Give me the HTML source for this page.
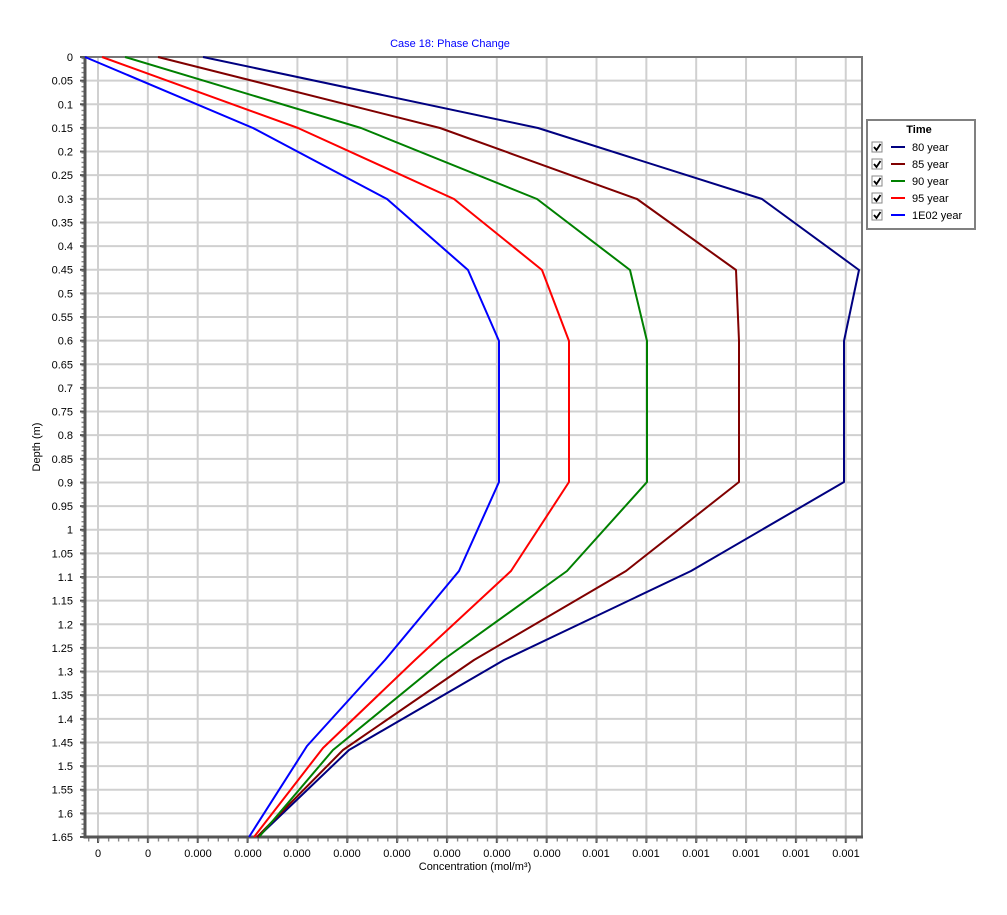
<!DOCTYPE html>
<html><head><meta charset="utf-8"><style>
body{margin:0;background:#fff;}
svg text{font-family:"Liberation Sans",sans-serif;font-size:11px;fill:#000;}
</style></head><body>
<svg width="1007" height="910" xmlns="http://www.w3.org/2000/svg">
<rect width="1007" height="910" fill="#fff"/>
<text x="450" y="47" text-anchor="middle" style="fill:#0000ff">Case 18: Phase Change</text>
<path stroke="#d0d0d0" stroke-width="2" fill="none" d="M85,80.64H862M85,104.27H862M85,127.91H862M85,151.55H862M85,175.18H862M85,198.82H862M85,222.45H862M85,246.09H862M85,269.73H862M85,293.36H862M85,317H862M85,340.64H862M85,364.27H862M85,387.91H862M85,411.55H862M85,435.18H862M85,458.82H862M85,482.45H862M85,506.09H862M85,529.73H862M85,553.36H862M85,577H862M85,600.64H862M85,624.27H862M85,647.91H862M85,671.55H862M85,695.18H862M85,718.82H862M85,742.45H862M85,766.09H862M85,789.73H862M85,813.36H862
M98,57V837M147.85,57V837M197.7,57V837M247.55,57V837M297.4,57V837M347.25,57V837M397.1,57V837M446.95,57V837M496.8,57V837M546.65,57V837M596.5,57V837M646.35,57V837M696.2,57V837M746.05,57V837M795.9,57V837M845.75,57V837"/>
<!-- major ticks -->
<path stroke="#555" stroke-width="2" fill="none" d="M80,57H85M80,80.64H85M80,104.27H85M80,127.91H85M80,151.55H85M80,175.18H85M80,198.82H85M80,222.45H85M80,246.09H85M80,269.73H85M80,293.36H85M80,317H85M80,340.64H85M80,364.27H85M80,387.91H85M80,411.55H85M80,435.18H85M80,458.82H85M80,482.45H85M80,506.09H85M80,529.73H85M80,553.36H85M80,577H85M80,600.64H85M80,624.27H85M80,647.91H85M80,671.55H85M80,695.18H85M80,718.82H85M80,742.45H85M80,766.09H85M80,789.73H85M80,813.36H85M80,837H85
M98,837V843M147.85,837V843M197.7,837V843M247.55,837V843M297.4,837V843M347.25,837V843M397.1,837V843M446.95,837V843M496.8,837V843M546.65,837V843M596.5,837V843M646.35,837V843M696.2,837V843M746.05,837V843M795.9,837V843M845.75,837V843"/>
<!-- minor ticks -->
<line x1="83" y1="57.7" x2="83" y2="837" stroke="#888" stroke-width="3" stroke-dasharray="1.4 3.327"/>
<line x1="88" y1="840" x2="862" y2="840" stroke="#888" stroke-width="3" stroke-dasharray="1.4 8.57"/>
<!-- axes frame -->
<path stroke="#777" stroke-width="2" fill="none" d="M85,57H862V837"/>
<path stroke="#555" stroke-width="3" fill="none" d="M85,56V837H863"/>
<g text-anchor="end">
<text x="73" y="61">0</text><text x="73" y="84.6">0.05</text><text x="73" y="108.3">0.1</text><text x="73" y="131.9">0.15</text><text x="73" y="155.5">0.2</text><text x="73" y="179.2">0.25</text><text x="73" y="202.8">0.3</text><text x="73" y="226.5">0.35</text><text x="73" y="250.1">0.4</text><text x="73" y="273.7">0.45</text><text x="73" y="297.4">0.5</text><text x="73" y="321">0.55</text><text x="73" y="344.6">0.6</text><text x="73" y="368.3">0.65</text><text x="73" y="391.9">0.7</text><text x="73" y="415.5">0.75</text><text x="73" y="439.2">0.8</text><text x="73" y="462.8">0.85</text><text x="73" y="486.5">0.9</text><text x="73" y="510.1">0.95</text><text x="73" y="533.7">1</text><text x="73" y="557.4">1.05</text><text x="73" y="581">1.1</text><text x="73" y="604.6">1.15</text><text x="73" y="628.3">1.2</text><text x="73" y="651.9">1.25</text><text x="73" y="675.5">1.3</text><text x="73" y="699.2">1.35</text><text x="73" y="722.8">1.4</text><text x="73" y="746.5">1.45</text><text x="73" y="770.1">1.5</text><text x="73" y="793.7">1.55</text><text x="73" y="817.4">1.6</text><text x="73" y="841">1.65</text>
</g>
<g text-anchor="middle">
<text x="98" y="857">0</text><text x="148" y="857">0</text><text x="198" y="857">0.000</text><text x="248" y="857">0.000</text><text x="297" y="857">0.000</text><text x="347" y="857">0.000</text><text x="397" y="857">0.000</text><text x="447" y="857">0.000</text><text x="497" y="857">0.000</text><text x="547" y="857">0.000</text><text x="596" y="857">0.001</text><text x="646" y="857">0.001</text><text x="696" y="857">0.001</text><text x="746" y="857">0.001</text><text x="796" y="857">0.001</text><text x="846" y="857">0.001</text>
</g>
<g fill="none" stroke-width="2" stroke-linejoin="round">
<polyline stroke="#000080" points="203,57 538,128 762,199 859,270 844,341 844,482 691,571 504,660 349,750 258,837"/>
<polyline stroke="#800000" points="158,57 440,128 637,199 736,270 739,341 739,482 626,571 474,660 343,750 257,837"/>
<polyline stroke="#008000" points="125,57 361,128 537,199 630,270 647,341 647,482 567,571 443,660 333,750 259,837"/>
<polyline stroke="#ff0000" points="102,57 298,128 454,199 542,270 569,341 569,482 511,571 415,660 323,748 254,837"/>
<polyline stroke="#0000ff" points="85,57 253,128 387,199 468,270 499,341 499,482 459,571 385,660 307,746 249,837"/>
</g>
<text x="475" y="870" text-anchor="middle">Concentration (mol/m³)</text>
<text transform="translate(40,447) rotate(-90)" text-anchor="middle">Depth (m)</text>
<rect x="867" y="120" width="108" height="109" fill="#fff" stroke="#808080" stroke-width="2"/>
<text x="919" y="133" text-anchor="middle" font-weight="bold">Time</text>
<g stroke="#888" fill="#fff">
<rect x="872" y="142" width="10" height="10"/><rect x="872" y="159" width="10" height="10"/><rect x="872" y="176" width="10" height="10"/><rect x="872" y="193" width="10" height="10"/><rect x="872" y="210" width="10" height="10"/>
</g>
<path stroke="#000" stroke-width="1.8" fill="none" d="M874,147l2.5,3l4,-6M874,164l2.5,3l4,-6M874,181l2.5,3l4,-6M874,198l2.5,3l4,-6M874,215l2.5,3l4,-6"/>
<g stroke-width="2">
<line x1="891" x2="905" y1="147" y2="147" stroke="#000080"/>
<line x1="891" x2="905" y1="164" y2="164" stroke="#800000"/>
<line x1="891" x2="905" y1="181" y2="181" stroke="#008000"/>
<line x1="891" x2="905" y1="198" y2="198" stroke="#ff0000"/>
<line x1="891" x2="905" y1="215" y2="215" stroke="#0000ff"/>
</g>
<text x="912" y="151">80 year</text>
<text x="912" y="168">85 year</text>
<text x="912" y="185">90 year</text>
<text x="912" y="202">95 year</text>
<text x="912" y="219">1E02 year</text>
</svg>
</body></html>
